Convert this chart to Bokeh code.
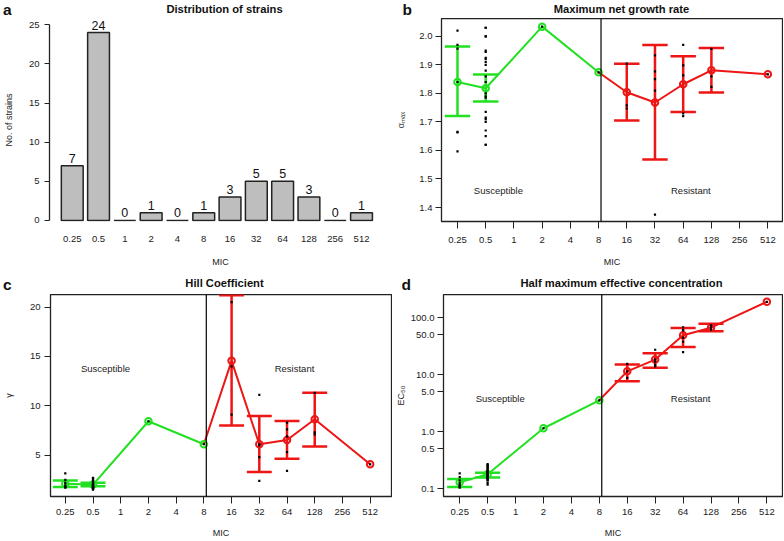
import numpy as np
from bokeh.plotting import figure
from bokeh.layouts import column, row
from bokeh.models import Range1d, FixedTicker, Span
from bokeh.embed import file_html
from bokeh.resources import INLINE
from bokeh.core.properties import value

# ---------------- data ----------------
mic_labels = ["0.25", "0.5", "1", "2", "4", "8", "16", "32", "64", "128", "256", "512"]
mic_values = [0.25, 0.5, 1, 2, 4, 8, 16, 32, 64, 128, 256, 512]
strain_counts = [7, 24, 0, 1, 0, 1, 3, 5, 5, 3, 0, 1]

group_mic = [0.25, 0.5, 2, 8, 16, 32, 64, 128, 512]
n_susceptible_groups = 4
breakpoint_mic = 8.5

# maximum net growth rate (alpha max)
alpha_mean = [1.840, 1.818, 2.034, 1.874, 1.804, 1.768, 1.832, 1.881, 1.867]
alpha_lo = [1.721, 1.772, None, None, 1.705, 1.568, 1.735, 1.803, None]
alpha_hi = [1.964, 1.866, None, None, 1.904, 1.970, 1.930, 1.959, None]
alpha_strains = [2.02, 1.97, 1.957, 1.84, 1.665, 1.663, 1.597,
                 2.03, 2.03, 2.00, 2.00, 1.95, 1.945, 1.925, 1.92, 1.91, 1.90, 1.88, 1.86,
                 1.84, 1.80, 1.79, 1.785, 1.735, 1.715, 1.71, 1.70, 1.67, 1.65, 1.62, 1.62,
                 2.034, 1.874,
                 1.904, 1.758, 1.747,
                 1.933, 1.877, 1.85, 1.81, 1.375,
                 1.97, 1.898, 1.863, 1.73, 1.72,
                 1.956, 1.86, 1.823,
                 1.867]

# Hill coefficient (gamma)
gamma_mean = [2.11, 2.02, 8.43, 6.10, 14.55, 6.10, 6.53, 8.63, 4.07]
gamma_lo = [1.78, 1.85, None, None, 8.0, 3.30, 4.64, 5.87, None]
gamma_hi = [2.44, 2.20, None, None, 21.2, 8.96, 8.46, 11.32, None]
gamma_strains = [3.15, 2.5, 2.2, 1.95, 1.8, 1.75, 1.7,
                 2.7, 2.65, 2.6, 2.4, 2.3, 2.2, 2.15, 2.1, 2.05, 2.0, 2.0, 1.95,
                 1.9, 1.9, 1.85, 1.8, 1.8, 1.75, 1.7, 1.7, 1.65, 1.6, 1.55, 1.5,
                 8.43, 6.1,
                 20.5, 14.0, 9.1,
                 11.1, 6.1, 6.0, 4.8, 2.4,
                 8.3, 7.6, 6.9, 5.3, 3.4,
                 11.3, 7.3, 7.1,
                 4.07]

# half maximum effective concentration (EC50)
ec50_mean = [0.129, 0.179, 1.15, 3.56, 11.5, 18.5, 49.4, 67.1, 191.0]
ec50_lo = [0.107, 0.157, None, None, 7.7, 13.3, 30.6, 58.0, None]
ec50_hi = [0.147, 0.191, None, None, 15.2, 23.8, 66.2, 78.7, None]
ec50_strains = [0.186, 0.16, 0.14, 0.125, 0.115, 0.108, 0.104,
                0.27, 0.26, 0.25, 0.24, 0.23, 0.22, 0.21, 0.2, 0.2, 0.19, 0.19, 0.18,
                0.18, 0.17, 0.17, 0.16, 0.16, 0.155, 0.15, 0.15, 0.14, 0.14, 0.125, 0.117,
                1.15, 3.56,
                15.5, 11.5, 8.8,
                27.5, 18.5, 17.0, 15.0, 14.0,
                68.0, 60.0, 45.0, 38.0, 25.0,
                74.0, 68.0, 62.0,
                191.0]

region_labels = ["Susceptible", "Resistant"]
region_x = [1.45, 8.27]

alpha_ticks = [1.4, 1.5, 1.6, 1.7, 1.8, 1.9, 2.0]
alpha_tick_labels = ["1.4", "1.5", "1.6", "1.7", "1.8", "1.9", "2.0"]
gamma_ticks = [5, 10, 15, 20]
gamma_tick_labels = ["5", "10", "15", "20"]
ec50_ticks = [0.1, 0.5, 1, 5, 10, 50, 100]
ec50_tick_labels = ["0.1", "0.5", "1.0", "5.0", "10.0", "50.0", "100.0"]
count_ticks = [0, 5, 10, 15, 20, 25]

panel_letters = ["a", "b", "c", "d"]
panel_titles = ["Distribution of strains", "Maximum net growth rate",
                "Hill Coefficient", "Half maximum effective concentration"]

# ---------------- styling ----------------
FONT = "Liberation Sans"
GREEN = "#22e022"
RED = "#ee1515"
TXT = "#222222"


def idx_of(mic):
    return np.log2(np.asarray(mic, dtype=float) / mic_values[0])


def header(width, height, letter, letter_x, letter_y, title, title_x, title_y):
    """Thin strip above a panel that carries the panel letter and the title."""
    h = figure(width=width, height=height, output_backend="svg", toolbar_location=None,
               x_range=Range1d(0, width), y_range=Range1d(height, 0),
               x_axis_location=None, y_axis_location=None,
               min_border_left=0, min_border_right=0, min_border_top=0, min_border_bottom=0)
    h.grid.visible = False
    h.outline_line_color = None
    h.background_fill_color = "white"
    h.border_fill_color = "white"
    h.text([letter_x], [letter_y], text=[letter], text_font=value(FONT), text_font_size="15.5px",
           text_font_style="bold", text_align="left", text_baseline="middle",
           text_color="#111111")
    h.text([title_x], [title_y], text=[title], text_font=value(FONT), text_font_size="11.2px",
           text_font_style="bold", text_align="center", text_baseline="middle",
           text_color="#111111")
    return h


def make_panel(fig_box, frame, xr, yr, y_log=False):
    fl, ft, fw, fh = fig_box
    p = figure(width=fw, height=fh, output_backend="svg", toolbar_location=None,
               x_range=Range1d(*xr), y_range=Range1d(*yr),
               y_axis_type="log" if y_log else "linear",
               min_border_left=frame[0] - fl,
               min_border_right=fl + fw - frame[2],
               min_border_top=frame[1] - ft,
               min_border_bottom=ft + fh - frame[3])
    p.grid.visible = False
    p.background_fill_color = "white"
    p.border_fill_color = "white"
    for ax in (p.xaxis[0], p.yaxis[0]):
        ax.major_label_text_font = FONT
        ax.major_label_text_font_size = "9.5px"
        ax.major_label_text_color = TXT
        ax.axis_label_text_font = FONT
        ax.axis_label_text_font_size = "9px"
        ax.axis_label_text_font_style = "normal"
        ax.axis_label_text_color = TXT
        ax.minor_tick_line_color = None
        ax.major_tick_in = 0
        ax.major_tick_out = 6
        ax.major_tick_line_color = "#222222"
        ax.major_tick_line_width = 1
    p.yaxis[0].major_label_orientation = "horizontal"
    return p


def mic_xaxis(p, tick_out, standoff, label_standoff):
    ax = p.xaxis[0]
    ax.ticker = FixedTicker(ticks=list(range(len(mic_labels))))
    ax.major_label_overrides = {i: s for i, s in enumerate(mic_labels)}
    ax.axis_label = "MIC"
    ax.axis_line_color = None
    ax.major_tick_out = tick_out
    ax.major_label_standoff = standoff
    ax.axis_label_standoff = label_standoff


def draw_groups(p, mean, lo, hi, strains, text_y):
    gx = idx_of(group_mic)
    mean = np.asarray(mean, dtype=float)
    lo = np.array([np.nan if v is None else v for v in lo])
    hi = np.array([np.nan if v is None else v for v in hi])
    cols = np.array([GREEN if i < n_susceptible_groups else RED for i in range(len(group_mic))])
    cap = 0.45
    m = ~np.isnan(lo)
    p.segment(gx[m], lo[m], gx[m], hi[m], line_color=list(cols[m]), line_width=2.5)
    p.segment(gx[m] - cap, lo[m], gx[m] + cap, lo[m], line_color=list(cols[m]), line_width=2.5)
    p.segment(gx[m] - cap, hi[m], gx[m] + cap, hi[m], line_color=list(cols[m]), line_width=2.5)
    k = n_susceptible_groups
    p.line(gx[:k], mean[:k], line_color=GREEN, line_width=2)
    p.line(gx[k - 1:], mean[k - 1:], line_color=RED, line_width=2)
    p.scatter(gx, mean, marker="circle", size=6.5, fill_color=None,
              line_color=list(cols), line_width=2)
    sx = idx_of(np.repeat(mic_values, strain_counts))
    p.scatter(sx, strains, marker="square", size=2.2, fill_color="black", line_color=None)
    p.add_layout(Span(location=float(idx_of(breakpoint_mic)), dimension="height",
                      line_color="black", line_width=1.2))
    p.text(region_x, [text_y, text_y], text=region_labels, text_font=value(FONT),
           text_font_size="9.5px", text_align="center", text_baseline="middle",
           text_color=TXT)
    p.outline_line_color = "#222222"
    p.outline_line_width = 1.3


# ---------------- headers ----------------
ha = header(392, 18, panel_letters[0], 2.5, 9, panel_titles[0], 224, 8)
hb = header(391, 18, panel_letters[1], 10, 9, panel_titles[1], 229, 8)
hc = header(392, 24, panel_letters[2], 2.5, 13.5, panel_titles[2], 224, 12)
hd = header(391, 24, panel_letters[3], 9, 13.5, panel_titles[3], 229, 12)

# ---------------- panel a ----------------
pa = make_panel((0, 18, 392, 252), (45, 18, 391, 221), (-0.865, 12.14), (-0.128, 25.8))
bx = np.arange(len(mic_labels))
pa.vbar(x=bx, top=strain_counts, width=0.83, bottom=0, fill_color="#bebebe",
        line_color="#222222", line_width=1.5)
pa.text(bx, strain_counts, text=[str(c) for c in strain_counts], text_font=value(FONT),
        text_font_size="12.5px", text_align="center", text_baseline="bottom",
        y_offset=-3, text_color="#111111")
pa.outline_line_color = None
ya = pa.yaxis[0]
ya.ticker = FixedTicker(ticks=count_ticks)
ya.bounds = (0, 25)
ya.axis_line_color = "#222222"
ya.axis_line_width = 1.3
ya.major_tick_out = 5
ya.major_label_standoff = 5
ya.axis_label = "No. of strains"
ya.axis_label_standoff = 12
mic_xaxis(pa, 0, 14, 12)
pa.xaxis[0].major_tick_line_color = None

# ---------------- panel b ----------------
pb = make_panel((392, 18, 391, 252), (441, 18, 782, 221), (-0.567, 11.52), (1.351, 2.0625))
draw_groups(pb, alpha_mean, alpha_lo, alpha_hi, alpha_strains, 1.458)
yb = pb.yaxis[0]
yb.ticker = FixedTicker(ticks=alpha_ticks)
yb.major_label_overrides = dict(zip(alpha_ticks, alpha_tick_labels))
yb.axis_line_color = None
yb.major_label_standoff = 3
yb.axis_label = "αₘₐₓ"
yb.axis_label_standoff = 10
yb.axis_label_text_color = "#444444"
mic_xaxis(pb, 7, 8, 11)

# ---------------- panel c ----------------
pc = make_panel((0, 294, 392, 246), (45, 294, 391, 497), (-0.534, 11.77), (0.81, 21.27))
draw_groups(pc, gamma_mean, gamma_lo, gamma_hi, gamma_strains, 13.81)
yc = pc.yaxis[0]
yc.ticker = FixedTicker(ticks=gamma_ticks)
yc.major_label_overrides = dict(zip(gamma_ticks, gamma_tick_labels))
yc.axis_line_color = None
yc.major_label_standoff = 4
yc.axis_label = "γ"
yc.axis_label_standoff = 13
mic_xaxis(pc, 7, 5, 10)

# ---------------- panel d ----------------
pd_ = make_panel((392, 294, 391, 246), (441, 294, 782, 497), (-0.58, 11.56), (0.0728, 257.0), y_log=True)
draw_groups(pd_, ec50_mean, ec50_lo, ec50_hi, ec50_strains, 3.8)
yd = pd_.yaxis[0]
yd.ticker = FixedTicker(ticks=ec50_ticks)
yd.major_label_overrides = dict(zip(ec50_ticks, ec50_tick_labels))
yd.axis_line_color = None
yd.major_label_standoff = 3
yd.axis_label = "EC₅₀"
yd.axis_label_standoff = 2
mic_xaxis(pd_, 7, 5, 10)

layout = column(row(ha, hb), row(pa, pb), row(hc, hd), row(pc, pd_))
open("out.html", "w").write(file_html(layout, INLINE))
